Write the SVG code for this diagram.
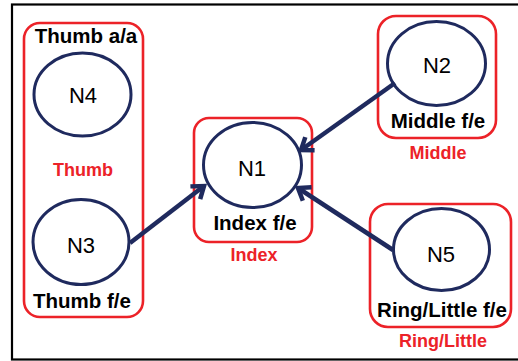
<svg xmlns="http://www.w3.org/2000/svg" width="518" height="361" viewBox="0 0 518 361">
  <style>
    .frame { fill: none; stroke: #000; stroke-width: 2.2; }
    .group { fill: none; stroke: #EC2228; stroke-width: 2.6; }
    .node { fill: #fff; stroke: #1F2A5E; stroke-width: 3; }
    .nlabel { font-family: "Liberation Sans", Arial, sans-serif; font-size: 22px; fill: #000; text-anchor: middle; }
    .title { font-family: "Liberation Sans", Arial, sans-serif; font-size: 20.5px; font-weight: bold; fill: #000; text-anchor: middle; }
    .gname { font-family: "Liberation Sans", Arial, sans-serif; font-size: 18px; font-weight: bold; fill: #EC2228; text-anchor: middle; }
    .edge { fill: none; stroke: #1F2A5E; stroke-width: 4.5; marker-end: url(#head); }
  </style>
  <defs>
    <marker id="head" markerUnits="userSpaceOnUse" markerWidth="24" markerHeight="24" refX="15" refY="12" orient="auto">
      <path d="M4,4 L15,12 L4,20" fill="none" stroke="#1F2A5E" stroke-width="4.5" stroke-linejoin="miter"/>
    </marker>
  </defs>

  <rect class="frame" x="12" y="4.5" width="520" height="355"/>

  <!-- Thumb group: N4 and N3 -->
  <g id="thumb">
    <rect class="group" x="24" y="23" width="119" height="294" rx="16"/>
    <text class="gname" x="83" y="176">Thumb</text>
  </g>
  <g id="n4">
    <text class="title" x="86" y="43">Thumb a/a</text>
    <ellipse class="node" cx="82.5" cy="94.5" rx="48.5" ry="41.5"/>
    <text class="nlabel" x="83" y="103">N4</text>
  </g>
  <g id="n3">
    <ellipse class="node" cx="81" cy="242" rx="48" ry="42.5"/>
    <text class="nlabel" x="81" y="253">N3</text>
    <text class="title" x="82" y="308">Thumb f/e</text>
  </g>

  <!-- Index group: N1 -->
  <g id="n1">
    <rect class="group" x="194" y="118" width="118" height="124" rx="15"/>
    <ellipse class="node" cx="252.5" cy="165" rx="49" ry="42.5"/>
    <text class="nlabel" x="252" y="176">N1</text>
    <text class="title" x="255" y="230">Index f/e</text>
    <text class="gname" x="254" y="261">Index</text>
  </g>

  <!-- Middle group: N2 -->
  <g id="n2">
    <rect class="group" x="378" y="16" width="118" height="122" rx="18"/>
    <ellipse class="node" cx="436.5" cy="63.5" rx="49" ry="42"/>
    <text class="nlabel" x="437" y="73">N2</text>
    <text class="title" x="438" y="128">Middle f/e</text>
    <text class="gname" x="438" y="159">Middle</text>
  </g>

  <!-- Ring/Little group: N5 -->
  <g id="n5">
    <rect class="group" x="370" y="204" width="141" height="123" rx="18"/>
    <ellipse class="node" cx="441.5" cy="249.5" rx="48" ry="41"/>
    <text class="nlabel" x="441" y="262">N5</text>
    <text class="title" x="442" y="317">Ring/Little f/e</text>
    <text class="gname" x="443" y="347">Ring/Little</text>
  </g>

  <!-- Connectors into N1 -->
  <g id="edges">
    <line class="edge" x1="395" y1="83" x2="301" y2="150"/>
    <line class="edge" x1="130" y1="243" x2="204" y2="186"/>
    <line class="edge" x1="393" y1="250" x2="298" y2="188"/>
  </g>
</svg>
